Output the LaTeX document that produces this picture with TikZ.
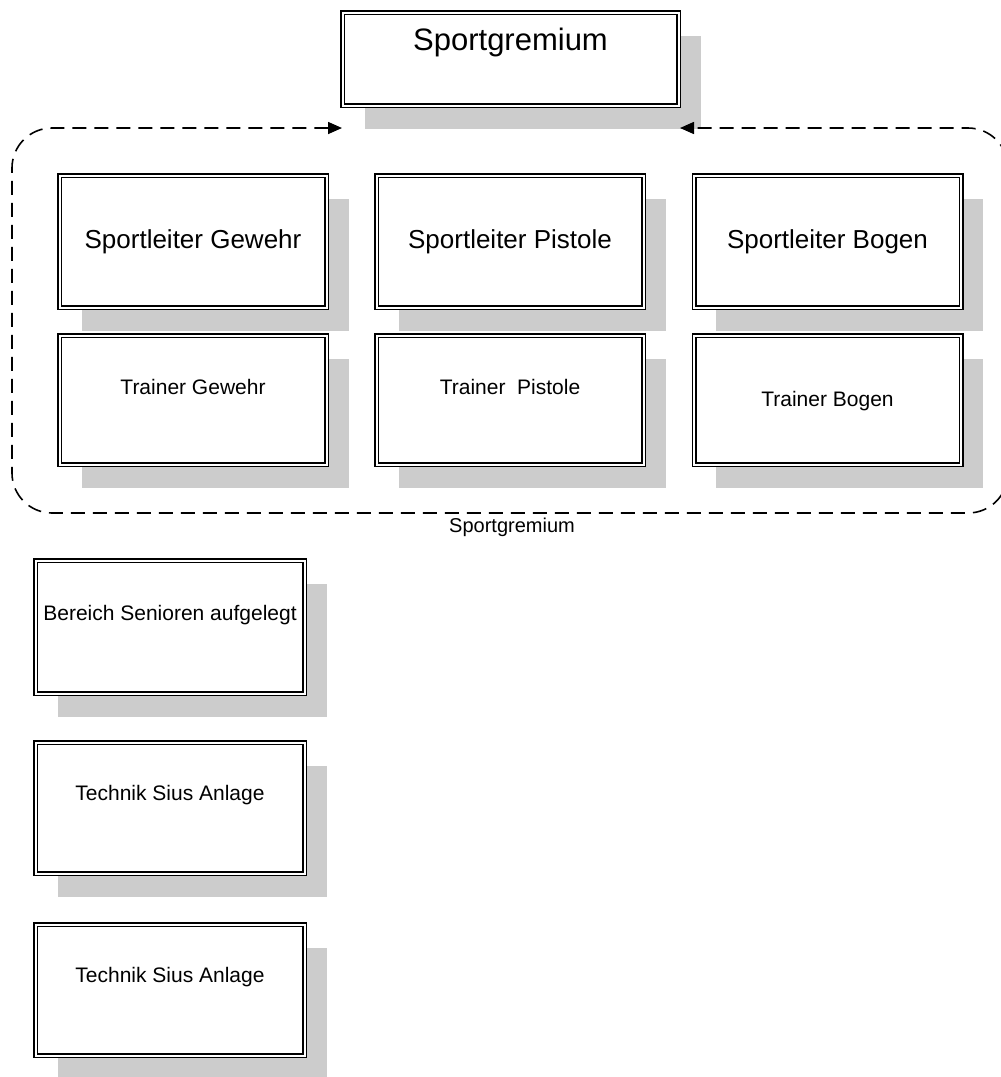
\documentclass[tikz,border=0pt]{standalone}
\usepackage{fontspec}
\setmainfont{Liberation Sans}
\usetikzlibrary{arrows.meta,shadows}
\definecolor{shadowgray}{HTML}{CCCCCC}
\begin{document}
\begin{tikzpicture}[x=1pt,y=-1pt,
  box/.style 2 args={draw=black, double=white, double distance=2pt, line width=1.5pt,
    fill=white, inner sep=0pt, minimum width=#1, minimum height=#2,
    general shadow={fill=shadowgray, shadow xshift=22pt, shadow yshift=-23pt}},
  bigtxt/.style={font=\fontsize{31}{36}\selectfont},
  midtxt/.style={font=\fontsize{26}{30}\selectfont},
  smalltxt/.style={font=\fontsize{21}{25}\selectfont},
  frametxt/.style={font=\fontsize{20}{24}\selectfont},
  frame/.style={line width=1.6pt, dash pattern=on 14pt off 8pt, rounded corners=40pt,
    {Triangle[length=14pt,width=12pt]}-{Triangle[length=14pt,width=12pt]}}
]
\useasboundingbox (0,0) rectangle (1001,1077);
\clip (0,0) rectangle (1001,1077);

% top box
\node[box={336pt}{93pt}] (sg) at (510.5,59) {};
\node[bigtxt] (sgt) at (510.5,42) {Sportgremium};

% row 1
\node[box={267pt}{132pt}] (slg) at (193,241.5) {};
\node[midtxt] (slgt) at (slg.center) {Sportleiter Gewehr};
\node[box={267pt}{132pt}] (slp) at (510,241.5) {};
\node[midtxt] (slpt) at (slp.center) {Sportleiter Pistole};
\node[box={267pt}{132pt}] (slb) at (827.5,241.5) {};
\node[midtxt] (slbt) at (slb.center) {Sportleiter Bogen};

% row 2
\node[box={267pt}{129pt}] (trg) at (193,400) {};
\node[smalltxt] (trgt) at (193,387) {Trainer Gewehr};
\node[box={267pt}{129pt}] (trp) at (510,400) {};
\node[smalltxt] (trpt) at (510,387) {Trainer~ Pistole};
\node[box={267pt}{129pt}] (trb) at (827.5,400) {};
\node[smalltxt] (trbt) at (827.5,401) {Trainer Bogen};

% dashed frame
\coordinate (fs) at (342,128);
\coordinate (fe) at (680,128);
\draw[frame] (fs) -- (12,128) -- (12,513) -- (1008,513) -- (1008,128) -- (fe);
\node[frametxt] (frl) at (512,527) {Sportgremium};

% lower boxes
\node[box={269pt}{133pt}] (bs) at (170,627) {};
\node[smalltxt] (bst) at (170,615) {Bereich Senioren aufgelegt};
\node[box={269pt}{131pt}] (ts1) at (170,808) {};
\node[smalltxt] (ts1t) at (170,795) {Technik Sius Anlage};
\node[box={269pt}{131pt}] (ts2) at (170,990) {};
\node[smalltxt] (ts2t) at (170,977) {Technik Sius Anlage};
\end{tikzpicture}
\end{document}
